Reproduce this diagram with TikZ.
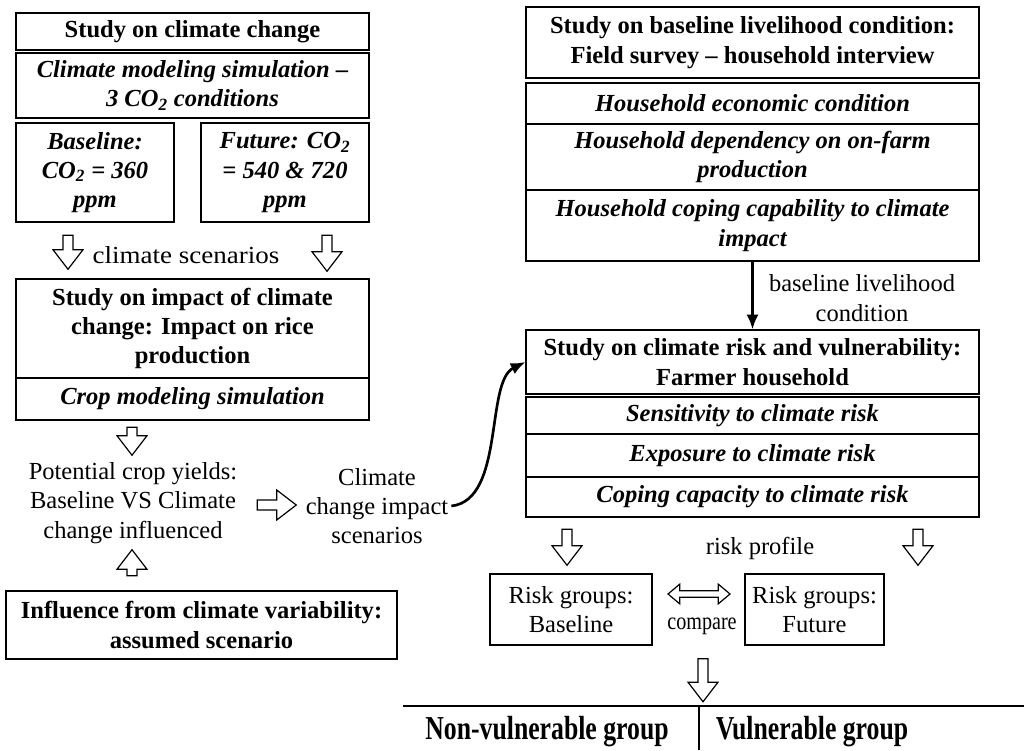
\documentclass[tikz,border=0pt]{standalone}
\usepackage{fontspec}
\setmainfont{Liberation Serif}
\usetikzlibrary{shapes.arrows,arrows.meta}

\newcommand{\fsz}{\fontsize{18.4}{22}\selectfont}
\newcommand{\cotwo}{CO\textsubscript{2}}

\tikzset{every picture/.style={line width=0.75pt}}
\tikzset{
  hd/.style 2 args={draw, line width=0.9pt, minimum width={#1*0.75pt}, minimum height={#2*0.75pt},
    inner sep=0pt, align=center, font=\fsz\bfseries},
  it/.style 2 args={hd={#1}{#2}, font=\fsz\bfseries\itshape},
  rg/.style 2 args={hd={#1}{#2}, font=\fsz},
  txt/.style={align=center, font=\fsz, inner sep=2pt},
  holl/.style={single arrow, draw, line width=0.9pt, inner xsep=0pt, inner ysep=3.3pt,
    single arrow head extend=7.5pt, single arrow tip angle=75, single arrow head indent=0pt,
    minimum height={#1*0.75pt}},
  dholl/.style={double arrow, draw, line width=0.9pt, inner xsep=0pt, inner ysep=2pt,
    double arrow head extend=5pt, double arrow tip angle=80, double arrow head indent=0pt,
    minimum height={#1*0.75pt}},
  bold arrow/.style={line width=2pt, -{Latex[length=11pt,width=9pt]}},
}

\begin{document}
\begin{tikzpicture}[x=0.75pt,y=0.75pt,yscale=-1,xscale=1]
\useasboundingbox (0,0) rectangle (1024,750);

% left column
\node [hd={353}{37}] (ccT) at (192.5,31.5) {Study on climate change};
\node [it={353}{65}] (ccM) at (192.5,85.5) {Climate modeling simulation --\\3 \cotwo{} conditions};
\node [it={158}{99}] (bl) at (95,172.5) {Baseline:\\\cotwo{} = 360\\ppm};
\node [it={168}{99}] (fu) at (285,172.5) {Future: \cotwo\\= 540 \& 720\\ppm};
\node [hd={353}{99}] (imp) at (192.5,328.5) {Study on impact of climate\\change: Impact on rice\\production};
\node [it={353}{42}] (crop) at (192.5,399) {Crop modeling simulation};
\node [txt] (pot) at (133,503) {Potential crop yields:\\Baseline VS Climate\\change influenced};
\node [txt] (cci) at (377,506) {Climate\\change impact\\scenarios};
\node [hd={391}{68}] (infl) at (201.5,625) {Influence from climate variability:\\assumed scenario};
\node [txt] (scen) at (186,255) {\scalebox{1.1}[1]{climate scenarios}};

\node [holl=34, rotate=-90] (a1) at (68,249) {};
\node [holl=36, rotate=-90] (a2) at (327,250) {};
\node [holl=28, rotate=-90] (a3) at (132,438) {};
\node [holl=39] (a4) at (273.5,505) {};
\node [holl=26, rotate=90] (a5) at (132,566) {};

% right column
\node [hd={453}{71}] (bls) at (752.5,42.5) {Study on baseline livelihood condition:\\Field survey -- household interview};
\node [it={453}{41}] (hhE) at (752.5,103.5) {Household economic condition};
\node [it={453}{66}] (hhD) at (752.5,157) {Household dependency on on-farm\\production};
\node [it={453}{71}] (hhC) at (752.5,225.5) {Household coping capability to climate\\impact};
\node [txt] (blc) at (862,298) {baseline livelihood\\condition};
\node [hd={453}{64}] (risk) at (752.5,362) {Study on climate risk and vulnerability:\\Farmer household};
\node [it={453}{37}] (sen) at (752.5,415.5) {Sensitivity to climate risk};
\node [it={453}{43}] (expo) at (752.5,455.5) {Exposure to climate risk};
\node [it={453}{40}] (cop) at (752.5,497) {Coping capacity to climate risk};
\node [txt] (rp) at (760,548) {risk profile};
\node [rg={162}{71}] (rgB) at (571,609.5) {Risk groups:\\Baseline};
\node [rg={139}{71}] (rgF) at (814.5,609.5) {Risk groups:\\Future};
\node [txt, inner sep=0pt] (cmp) at (702,626) {\scalebox{0.82}[1]{compare}};

\node [holl=36, rotate=-90] (a6) at (567,544) {};
\node [holl=36, rotate=-90] (a7) at (918,544) {};
\node [dholl=62] (a8) at (699,594) {};
\node [holl=43, rotate=-90] (a9) at (703,677) {};

\draw [bold arrow] (hhC.south) -- (risk.north);
\draw [bold arrow] (cci.east) .. controls (505,500) and (485,382) .. (risk.west);

% result table
\coordinate (tl) at (403,706);
\coordinate (tr) at (1024,706);
\coordinate (tm) at (699,706);
\coordinate (tb) at (699,750);
\draw [line width=0.9pt] (tl) -- (tr);
\draw [line width=0.9pt] (tm) -- (tb);
\node [font=\fontsize{19.3}{23}\selectfont\bfseries] (nvg) at (547,732) {\scalebox{1}[1.3]{Non-vulnerable group}};
\node [font=\fontsize{19.3}{23}\selectfont\bfseries] (vg) at (812,732) {\scalebox{1}[1.3]{Vulnerable group}};

\end{tikzpicture}
\end{document}
